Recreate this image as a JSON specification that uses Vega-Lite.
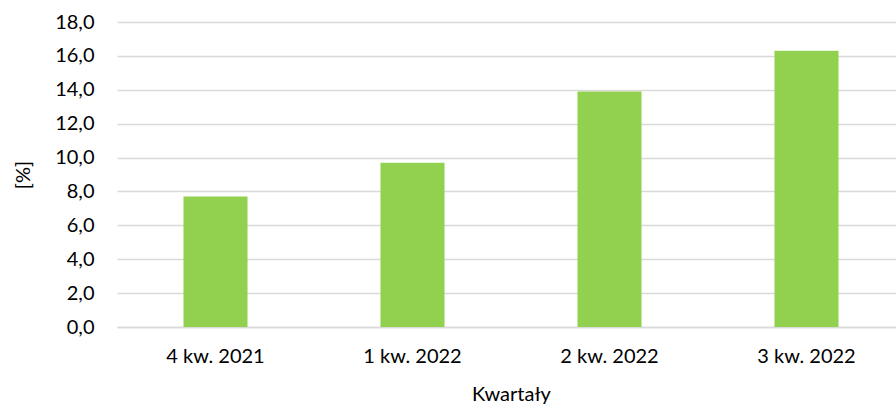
{
  "$schema": "https://vega.github.io/schema/vega-lite/v6.json",
  "width": 788,
  "height": 305,
  "autosize": {"type": "none"},
  "padding": {"left": 117, "top": 22, "right": 0, "bottom": 79},
  "background": "white",
  "data": {
    "values": [
      {"kwartal": "4 kw. 2021", "wartosc": 7.7},
      {"kwartal": "1 kw. 2022", "wartosc": 9.7},
      {"kwartal": "2 kw. 2022", "wartosc": 13.9},
      {"kwartal": "3 kw. 2022", "wartosc": 16.3}
    ]
  },
  "mark": {"type": "bar", "color": "#92D050"},
  "encoding": {
    "x": {
      "field": "kwartal",
      "type": "nominal",
      "sort": null,
      "scale": {"paddingInner": 0.675, "paddingOuter": 0.3375},
      "axis": {
        "title": "Kwartały",
        "labelAngle": 0,
        "labelPadding": 19,
        "titlePadding": 18,
        "ticks": false,
        "domain": true,
        "domainColor": "#D9D9D9",
        "domainWidth": 1.3
      }
    },
    "y": {
      "field": "wartosc",
      "type": "quantitative",
      "scale": {"domain": [0, 18], "nice": false},
      "axis": {
        "title": "[%]",
        "values": [0, 2, 4, 6, 8, 10, 12, 14, 16, 18],
        "labelExpr": "replace(format(datum.value, '.1f'), '.', ',')",
        "ticks": false,
        "domain": false,
        "grid": true,
        "gridColor": "#D9D9D9",
        "gridWidth": 1.3,
        "labelPadding": 23,
        "titlePadding": 21
      }
    }
  },
  "config": {
    "view": {"stroke": null},
    "axis": {
      "labelFont": "Lato",
      "titleFont": "Lato",
      "labelFontSize": 20,
      "titleFontSize": 20,
      "titleFontWeight": "normal",
      "labelColor": "#000000",
      "titleColor": "#000000"
    }
  }
}
